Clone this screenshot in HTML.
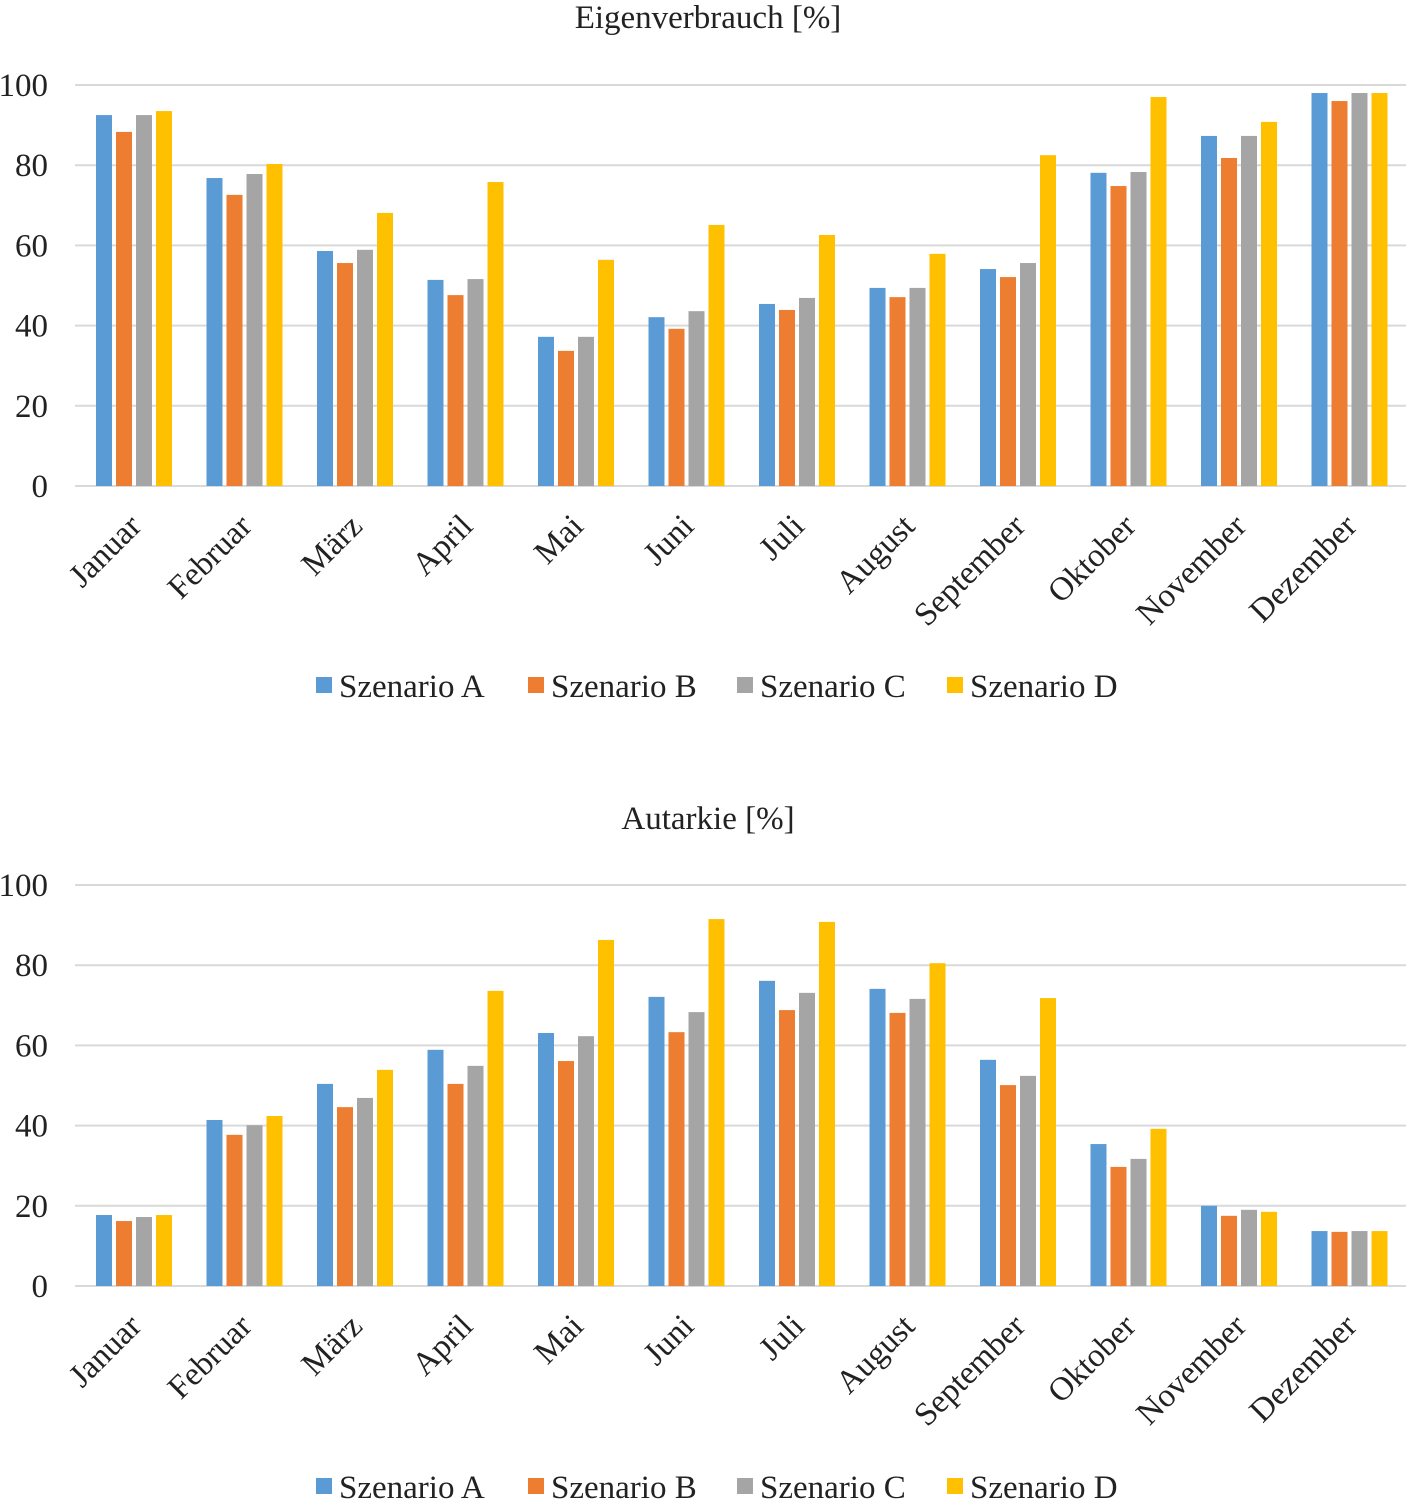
<!DOCTYPE html>
<html><head><meta charset="utf-8">
<style>
html,body{margin:0;padding:0;background:#fff;}
svg{display:block;font-family:"Liberation Serif",serif;}
</style></head>
<body>
<svg id="chart" width="1406" height="1508" viewBox="0 0 1406 1508" xmlns="http://www.w3.org/2000/svg"></svg>
<script>
const months = ["Januar","Februar","März","April","Mai","Juni","Juli","August","September","Oktober","November","Dezember"];
const seriesNames = ["Szenario A","Szenario B","Szenario C","Szenario D"];
const yTicks = [0,20,40,60,80,100];
const eigenA = [92.5,76.8,58.6,51.4,37.2,42.1,45.4,49.4,54.1,78.1,87.3,98.0];
const eigenB = [88.3,72.6,55.6,47.6,33.7,39.2,43.9,47.1,52.1,74.8,81.8,96.0];
const eigenC = [92.5,77.8,58.9,51.6,37.2,43.6,46.9,49.4,55.6,78.3,87.3,98.0];
const eigenD = [93.5,80.3,68.1,75.8,56.4,65.1,62.6,57.9,82.5,97.0,90.8,98.0];
const autA = [17.7,41.4,50.4,58.9,63.1,72.1,76.1,74.1,56.4,35.4,20.0,13.7];
const autB = [16.2,37.7,44.6,50.4,56.1,63.3,68.8,68.1,50.1,29.7,17.5,13.5];
const autC = [17.2,40.1,46.9,54.9,62.3,68.3,73.1,71.6,52.4,31.7,19.0,13.7];
const autD = [17.7,42.4,53.9,73.6,86.3,91.5,90.8,80.5,71.8,39.2,18.5,13.7];

const colors = ["#5B9BD5","#ED7D31","#A5A5A5","#FFC000"];
const NS = "http://www.w3.org/2000/svg";
const svg = document.getElementById("chart");
const FS = 33;
function mk(tag, attrs, parent){
  const e = document.createElementNS(NS, tag);
  for (const k in attrs) e.setAttribute(k, attrs[k]);
  (parent||svg).appendChild(e);
  return e;
}
function drawChart(id, title, titleY, zeroY, series, legendY){
  const g = mk("g", {});
  
  
  const yScale = v => zeroY - v * 4.01;
  const xCenter = i => 133 + 110.5 * i;
  const t = mk("text", {x:708, y:titleY, "text-anchor":"middle", "font-size":FS, fill:"#222"}, g);
  t.textContent = title;
  
  
  yTicks.forEach(v => {
    const y = yScale(v);
    const l = mk("line", {x1:75, x2:1406, y1:y, y2:y, stroke:"#d9d9d9", "stroke-width":2}, g);
    
    
    const tx = mk("text", {x:48, y:y+11, "text-anchor":"end", "font-size":FS, fill:"#222"}, g);
    tx.textContent = v;
    
    
  });
  series.forEach((vals, s) => {
    vals.forEach((v, i) => {
      const x = xCenter(i) - 37 + s * 20;
      const r = mk("rect", {x:x, y:yScale(v), width:16, height:yScale(0)-yScale(v), fill:colors[s]}, g);
      
      
    });
  });
  months.forEach((m, i) => {
    const cx = xCenter(i) + 10, cy = zeroY + 42;
    const tx = mk("text", {x:cx, y:cy, "text-anchor":"end", "font-size":FS, fill:"#222", transform:`rotate(-45 ${cx} ${cy})`}, g);
    tx.textContent = m;
    
    
  });
  const lx = [316, 528, 737, 947];
  seriesNames.forEach((n, s) => {
    const lg = mk("g", {}, g);
    
    
    mk("rect", {x:lx[s], y:legendY-9, width:16, height:16, fill:colors[s]}, lg);
    const tx = mk("text", {x:lx[s]+23, y:legendY+11, "font-size":FS, fill:"#222"}, lg);
    tx.textContent = n;
  });
}
drawChart("eigenverbrauch-chart", "Eigenverbrauch [%]", 28, 486, [eigenA,eigenB,eigenC,eigenD], 686);
drawChart("autarkie-chart", "Autarkie [%]", 829, 1286, [autA,autB,autC,autD], 1487);
</script>
</body></html>
